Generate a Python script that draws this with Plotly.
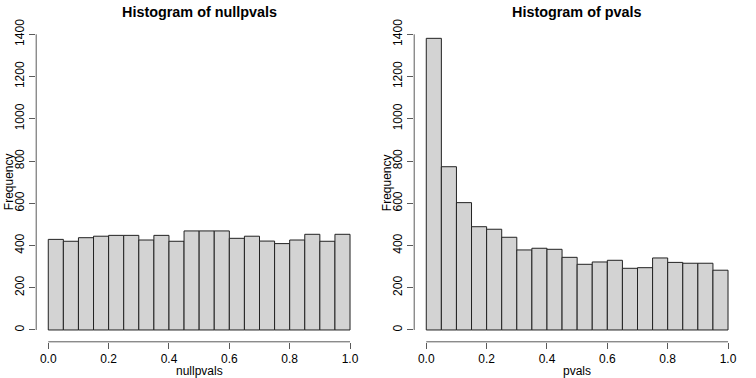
import plotly.graph_objects as go

bin_left = [round(i * 0.05, 2) for i in range(20)]
null_counts = [429, 420, 437, 444, 448, 448, 426, 448, 420, 469,
               469, 469, 434, 444, 421, 409, 426, 453, 420, 453]
p_counts = [1381, 773, 603, 489, 477, 439, 379, 387, 382, 344,
            311, 322, 330, 292, 295, 341, 320, 316, 316, 283]
x_ticks = [0.0, 0.2, 0.4, 0.6, 0.8, 1.0]
x_tick_text = ["0.0", "0.2", "0.4", "0.6", "0.8", "1.0"]
y_ticks = [0, 200, 400, 600, 800, 1000, 1200, 1400]
panels = [("Histogram of nullpvals", "nullpvals", null_counts),
          ("Histogram of pvals", "pvals", p_counts)]

FONT = "Liberation Sans, Arial, sans-serif"
W, H = 756, 378
x_domains = [[36.2 / W, 362.1 / W], [414.2 / W, 740.1 / W]]
y_domain = [1 - 341.8 / H, 1 - 22.5 / H]
AX = "#5a5a5a"

fig = go.Figure()
layout = dict(width=W, height=H, margin=dict(l=0, r=0, t=0, b=0),
              plot_bgcolor="white", paper_bgcolor="white", showlegend=False,
              font=dict(family=FONT, size=12, color="black"), bargap=0)
shapes, annotations = [], []
for i, (title, xlab, counts) in enumerate(panels):
    sfx = "" if i == 0 else str(i + 1)
    fig.add_trace(go.Bar(x=[b + 0.025 for b in bin_left], y=counts, width=0.05,
                         marker=dict(color="#d3d3d3", line=dict(color="#222222", width=1)),
                         xaxis="x" + sfx, yaxis="y" + sfx, hoverinfo="skip"))
    layout["xaxis" + sfx] = dict(domain=x_domains[i], range=[-0.04, 1.04], anchor="y" + sfx,
                                 showgrid=False, zeroline=False, showline=False, automargin=False,
                                 tickmode="array", tickvals=x_ticks, ticktext=x_tick_text,
                                 ticks="outside", ticklen=6, tickcolor=AX, tickwidth=1,
                                 tickfont=dict(size=12, family=FONT, color="black"))
    layout["yaxis" + sfx] = dict(domain=y_domain, range=[-56, 1456], anchor="x" + sfx,
                                 showgrid=False, zeroline=False, showline=False, automargin=False,
                                 tickmode="array", tickvals=y_ticks, tickangle=-90,
                                 ticks="outside", ticklen=6, tickcolor=AX, tickwidth=1,
                                 tickfont=dict(size=12, family=FONT, color="black"))
    xr, yr = "x" + sfx, "y" + sfx
    shapes.append(dict(type="line", xref=xr, yref=yr + " domain", x0=0, x1=1, y0=0, y1=0,
                       line=dict(color=AX, width=1)))
    shapes.append(dict(type="line", xref=xr + " domain", yref=yr, x0=0, x1=0, y0=0, y1=1400,
                       line=dict(color=AX, width=1)))
    cx = (x_domains[i][0] + x_domains[i][1]) / 2
    annotations.append(dict(text="<b>" + title + "</b>", xref="paper", yref="paper",
                            x=cx, y=1 - 12 / H, showarrow=False, xanchor="center", yanchor="middle",
                            font=dict(size=14.4, family=FONT, color="black")))
    annotations.append(dict(text=xlab, xref="paper", yref="paper",
                            x=cx, y=1 - 371 / H, showarrow=False, xanchor="center", yanchor="middle",
                            font=dict(size=12, family=FONT, color="black")))
    annotations.append(dict(text="Frequency", xref="paper", yref="paper", textangle=-90,
                            x=(9 + 378 * i) / W, y=(y_domain[0] + y_domain[1]) / 2,
                            showarrow=False, xanchor="center", yanchor="middle",
                            font=dict(size=12, family=FONT, color="black")))
layout["shapes"] = shapes
layout["annotations"] = annotations
fig.update_layout(**layout)
fig.write_html("out.html", config={"displayModeBar": False, "staticPlot": True},
               post_script="document.body.style.margin='0';document.body.style.overflow='hidden';")
